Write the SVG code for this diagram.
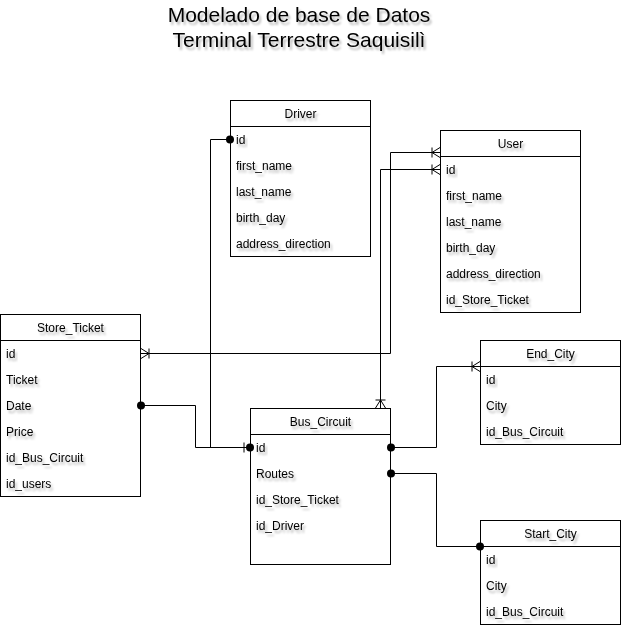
<svg xmlns="http://www.w3.org/2000/svg" width="632" height="638" viewBox="0 0 632 638">
  <style>
    .box { fill: #ffffff; stroke: #000000; stroke-width: 1; }
    .sep { stroke: #000000; stroke-width: 1; fill: none; }
    text { font-family: "Liberation Sans", Arial, Helvetica, sans-serif; fill: #000000; filter: url(#tshadow); }
    .title { font-size: 21px; text-anchor: middle; }
    .head { font-size: 12px; text-anchor: middle; }
    .row { font-size: 12px; }
    .link { fill: none; stroke: #000000; stroke-width: 1; }
  </style>
  <defs>
    <filter id="tshadow" x="-10%" y="-30%" width="130%" height="180%">
      <feDropShadow dx="2" dy="3" stdDeviation="1.2" flood-color="#000000" flood-opacity="0.28"/>
    </filter>
    <!-- filled dot -->
    <marker id="dot" markerUnits="userSpaceOnUse" viewBox="0 0 10 10" refX="5" refY="5" markerWidth="10" markerHeight="10" orient="auto-start-reverse" overflow="visible">
      <circle cx="5" cy="5" r="4" fill="#000000"/>
    </marker>
    <!-- single bar (one) -->
    <marker id="one" markerUnits="userSpaceOnUse" viewBox="0 0 12 12" refX="12" refY="6" markerWidth="12" markerHeight="12" orient="auto-start-reverse" overflow="visible">
      <path d="M6,1 L6,11" fill="none" stroke="#000000" stroke-width="1"/>
    </marker>
    <!-- crow's foot with bar (one to many) -->
    <marker id="many" markerUnits="userSpaceOnUse" viewBox="0 0 12 12" refX="12" refY="6" markerWidth="12" markerHeight="12" orient="auto-start-reverse" overflow="visible">
      <path d="M12,1 L4,6 L12,11 M4,1 L4,11" fill="none" stroke="#000000" stroke-width="1"/>
    </marker>
  </defs>

  <rect x="0" y="0" width="632" height="638" fill="#ffffff"/>

  <g id="title">
    <text class="title" x="299" y="22">Modelado de base de Datos</text>
    <text class="title" x="299" y="47">Terminal Terrestre Saquisilì</text>
  </g>

  <g id="driver">
    <rect class="box" x="230.5" y="100.5" width="140" height="156"/>
    <line class="sep" x1="230.5" y1="126.5" x2="370.5" y2="126.5"/>
    <text class="head" x="300.5" y="118">Driver</text>
    <text class="row" x="236" y="144">id</text>
    <text class="row" x="236" y="170">first_name</text>
    <text class="row" x="236" y="196">last_name</text>
    <text class="row" x="236" y="222">birth_day</text>
    <text class="row" x="236" y="248">address_direction</text>
  </g>

  <g id="user">
    <rect class="box" x="440.5" y="130.5" width="140" height="182"/>
    <line class="sep" x1="440.5" y1="156.5" x2="580.5" y2="156.5"/>
    <text class="head" x="510.5" y="148">User</text>
    <text class="row" x="446" y="174">id</text>
    <text class="row" x="446" y="200">first_name</text>
    <text class="row" x="446" y="226">last_name</text>
    <text class="row" x="446" y="252">birth_day</text>
    <text class="row" x="446" y="278">address_direction</text>
    <text class="row" x="446" y="304">id_Store_Ticket</text>
  </g>

  <g id="store_ticket">
    <rect class="box" x="0.5" y="314.5" width="140" height="182"/>
    <line class="sep" x1="0.5" y1="340.5" x2="140.5" y2="340.5"/>
    <text class="head" x="70.5" y="332">Store_Ticket</text>
    <text class="row" x="6" y="358">id</text>
    <text class="row" x="6" y="384">Ticket</text>
    <text class="row" x="6" y="410">Date</text>
    <text class="row" x="6" y="436">Price</text>
    <text class="row" x="6" y="462">id_Bus_Circuit</text>
    <text class="row" x="6" y="488">id_users</text>
  </g>

  <g id="bus_circuit">
    <rect class="box" x="250.5" y="408.5" width="140" height="156"/>
    <line class="sep" x1="250.5" y1="434.5" x2="390.5" y2="434.5"/>
    <text class="head" x="320.5" y="426">Bus_Circuit</text>
    <text class="row" x="256" y="452">id</text>
    <text class="row" x="256" y="478">Routes</text>
    <text class="row" x="256" y="504">id_Store_Ticket</text>
    <text class="row" x="256" y="530">id_Driver</text>
  </g>

  <g id="end_city">
    <rect class="box" x="480.5" y="340.5" width="140" height="104"/>
    <line class="sep" x1="480.5" y1="366.5" x2="620.5" y2="366.5"/>
    <text class="head" x="550.5" y="358">End_City</text>
    <text class="row" x="486" y="384">id</text>
    <text class="row" x="486" y="410">City</text>
    <text class="row" x="486" y="436">id_Bus_Circuit</text>
  </g>

  <g id="start_city">
    <rect class="box" x="480.5" y="520.5" width="140" height="104"/>
    <line class="sep" x1="480.5" y1="546.5" x2="620.5" y2="546.5"/>
    <text class="head" x="550.5" y="538">Start_City</text>
    <text class="row" x="486" y="564">id</text>
    <text class="row" x="486" y="590">City</text>
    <text class="row" x="486" y="616">id_Bus_Circuit</text>
  </g>

  <!-- relationships, drawn above the tables so end symbols stay visible -->
  <g id="connectors">
    <!-- Driver.id to Bus_Circuit.id -->
    <path class="link" d="M230,139.5 H210.5 V447.5 H250" marker-start="url(#dot)" marker-end="url(#one)"/>
    <!-- Store_Ticket.Date to Bus_Circuit.id -->
    <path class="link" d="M141,405.5 H195.5 V447.5 H250" marker-start="url(#dot)" marker-end="url(#dot)"/>
    <!-- Store_Ticket.id to User -->
    <path class="link" d="M141,353.5 H390.5 V152.5 H440" marker-start="url(#many)" marker-end="url(#many)"/>
    <!-- Bus_Circuit to User.id -->
    <path class="link" d="M380.5,408 V169.5 H440" marker-start="url(#many)" marker-end="url(#many)"/>
    <!-- Bus_Circuit.id to End_City -->
    <path class="link" d="M391,447.5 H436.5 V366.5 H480" marker-start="url(#dot)" marker-end="url(#many)"/>
    <!-- Bus_Circuit.Routes to Start_City -->
    <path class="link" d="M391,473.5 H436.5 V546.5 H480" marker-start="url(#dot)" marker-end="url(#dot)"/>
  </g>
</svg>
